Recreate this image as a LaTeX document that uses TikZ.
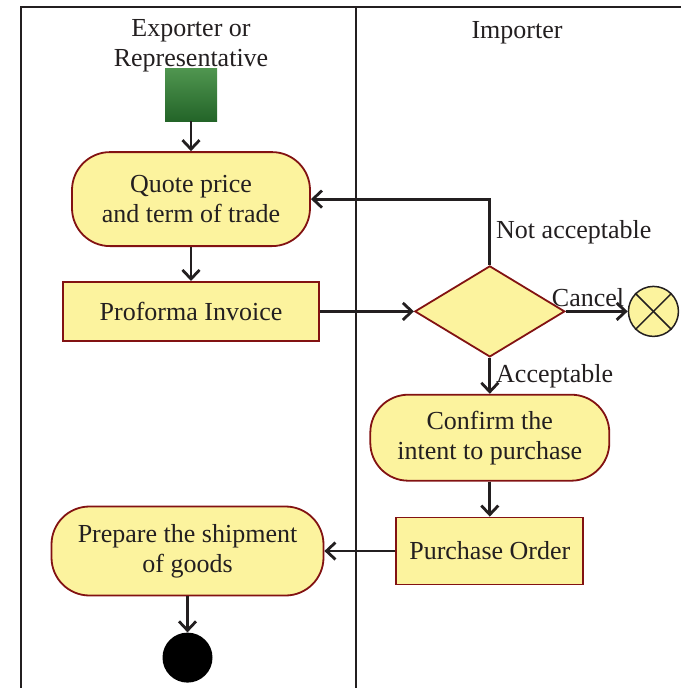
\documentclass[tikz,border=0pt]{standalone}
\usepackage{fontspec}
\setmainfont{Liberation Serif}
\usepackage{xcolor}
\usetikzlibrary{shapes.geometric, arrows.meta, positioning}
\definecolor{actfill}{RGB}{252,243,158}
\definecolor{actline}{RGB}{130,18,18}
\definecolor{ink}{RGB}{35,31,32}
\definecolor{greentop}{RGB}{80,150,80}
\definecolor{greenbot}{RGB}{35,100,40}
\tikzstyle{activity} = [rectangle, draw=actline, line width=1.8pt, fill=actfill, rounded corners=38pt, align=center, text=ink]
\tikzstyle{object} = [rectangle, draw=actline, line width=1.8pt, fill=actfill, align=center, text=ink]
\tikzstyle{decision} = [diamond, draw=actline, line width=1.8pt, fill=actfill, inner sep=0pt, minimum width=150pt, minimum height=91pt]
\tikzstyle{initial} = [rectangle, inner sep=0pt, minimum width=52pt, minimum height=53pt, top color=greentop, bottom color=greenbot]
\tikzstyle{cancelled} = [circle, draw=ink, line width=1.5pt, fill=actfill, minimum size=50pt, inner sep=0pt]
\tikzstyle{final} = [circle, fill=black, minimum size=50pt, inner sep=0pt]
\tikzstyle{flow} = [-{Straight Barb[length=9pt, width=17pt, line width=2.8pt]}, line width=2.8pt, color=ink]
\tikzstyle{lane} = [line width=2pt, draw=ink]

\begin{document}
\begin{tikzpicture}[x=1pt, y=-1pt, every node/.style={font=\fontsize{26}{30}\selectfont, text=ink}]
\useasboundingbox (0,0) rectangle (681,688);

% Swimlanes
\draw[lane] (21,688) -- (21,7) -- (681,7);
\draw[lane] (356,7) -- (356,688);
\node[align=center] (exporter) at (191,46) {Exporter or\\Representative};
\node (importer) at (517,33) {Importer};

% Exporter lane - top to bottom
\node[initial] (start) at (191,94.5) {};
\node[activity, minimum width=238pt, minimum height=94pt, below=30pt of start] (quote) {Quote price\\and term of trade};
\node[object, minimum width=256pt, minimum height=59pt, below=34pt of quote] (proforma) {Proforma Invoice};

% Importer lane - decision and outcomes
\node[decision, right=94pt of proforma] (check) {};
\node[cancelled, right=62pt of check] (cancel) {};
\draw[ink, line width=1.5pt] (cancel.north east) -- (cancel.south west);
\draw[ink, line width=1.5pt] (cancel.north west) -- (cancel.south east);
\node[activity, minimum width=239pt, minimum height=86pt, below=36pt of check] (confirm) {Confirm the\\intent to purchase};
\node[object, minimum width=187pt, minimum height=67pt, below=35pt of confirm] (order) {Purchase Order};

% Back to exporter lane
\node[activity, minimum width=272pt, minimum height=89pt, left=71pt of order] (prepare) {Prepare the shipment\\of goods};
\node[final, below=36pt of prepare] (stop) {};

% Flow arrows
\draw[flow] (start) -- (quote);
\draw[flow] (quote) -- (proforma);
\draw[flow] (proforma) -- (check);
\draw[flow] (check) -- node[pos=0.36, above, inner sep=3.5pt] {Cancel} (cancel);
\draw[flow] (check.north) |- node[pos=0.25, right, inner sep=5pt] {Not acceptable} (quote.east);
\draw[flow] (check) -- node[right, inner sep=5pt] {Acceptable} (confirm);
\draw[flow] (confirm) -- (order);
\draw[flow] (order) -- (prepare);
\draw[flow] (prepare) -- (stop);

\end{tikzpicture}
\end{document}
